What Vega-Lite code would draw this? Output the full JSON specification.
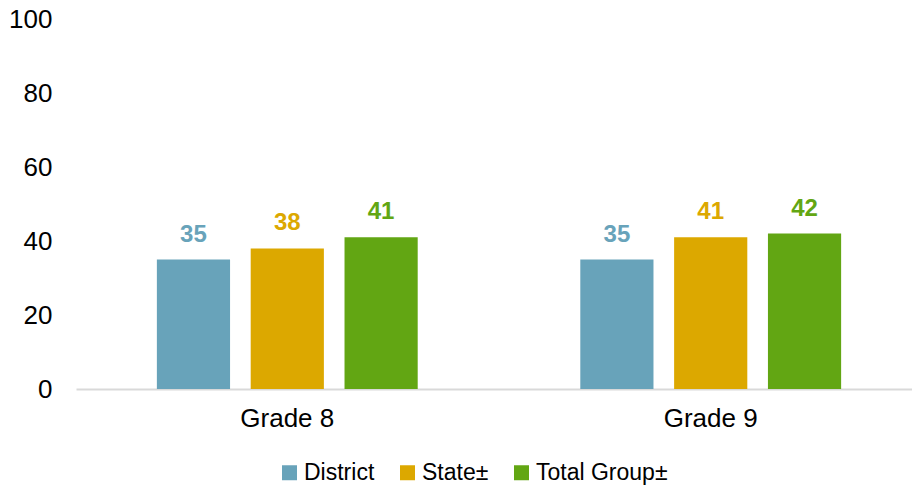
{
  "$schema": "https://vega.github.io/schema/vega-lite/v6.json",
  "autosize": "none",
  "width": 846,
  "height": 370,
  "padding": {"left": 76, "top": 19, "right": 0, "bottom": 100},
  "background": "white",
  "config": {
    "view": {"stroke": null},
    "font": "Liberation Sans",
    "text": {"font": "Liberation Sans"}
  },
  "data": {
    "values": [
      {"grade": "Grade 8", "group": "District", "value": 35},
      {"grade": "Grade 8", "group": "State±", "value": 38},
      {"grade": "Grade 8", "group": "Total Group±", "value": 41},
      {"grade": "Grade 9", "group": "District", "value": 35},
      {"grade": "Grade 9", "group": "State±", "value": 41},
      {"grade": "Grade 9", "group": "Total Group±", "value": 42}
    ]
  },
  "encoding": {
    "x": {
      "field": "grade",
      "type": "nominal",
      "scale": {"paddingInner": 0.384, "paddingOuter": 0.191},
      "axis": {
        "title": null,
        "labelAngle": 0,
        "labelFontSize": 26,
        "labelColor": "#000000",
        "labelPadding": 16,
        "ticks": false,
        "domainColor": "#D9D9D9",
        "domainWidth": 2,
        "grid": false
      }
    },
    "xOffset": {
      "field": "group",
      "type": "nominal",
      "sort": ["District", "State±", "Total Group±"],
      "scale": {"paddingInner": 0.22, "paddingOuter": 0}
    },
    "y": {
      "field": "value",
      "type": "quantitative",
      "scale": {"domain": [0, 100]},
      "axis": {
        "title": null,
        "values": [0, 20, 40, 60, 80, 100],
        "labelFontSize": 26,
        "labelColor": "#000000",
        "labelPadding": 24,
        "ticks": false,
        "domain": false,
        "grid": false
      }
    },
    "color": {
      "field": "group",
      "type": "nominal",
      "sort": ["District", "State±", "Total Group±"],
      "scale": {
        "domain": ["District", "State±", "Total Group±"],
        "range": ["#68A3BA", "#DCA800", "#62A613"]
      },
      "legend": {
        "title": null,
        "orient": "none",
        "direction": "horizontal",
        "legendX": 202,
        "legendY": 442,
        "symbolType": "square",
        "symbolSize": 225,
        "symbolStrokeWidth": 0,
        "symbolOpacity": 1,
        "labelFontSize": 23,
        "labelColor": "#000000",
        "labelOffset": 3,
        "columnPadding": 21
      }
    }
  },
  "layer": [
    {"mark": {"type": "bar"}},
    {
      "mark": {"type": "text", "fontWeight": "bold", "fontSize": 24, "dy": -18, "baseline": "alphabetic"},
      "encoding": {"text": {"field": "value", "type": "quantitative"}}
    }
  ]
}
